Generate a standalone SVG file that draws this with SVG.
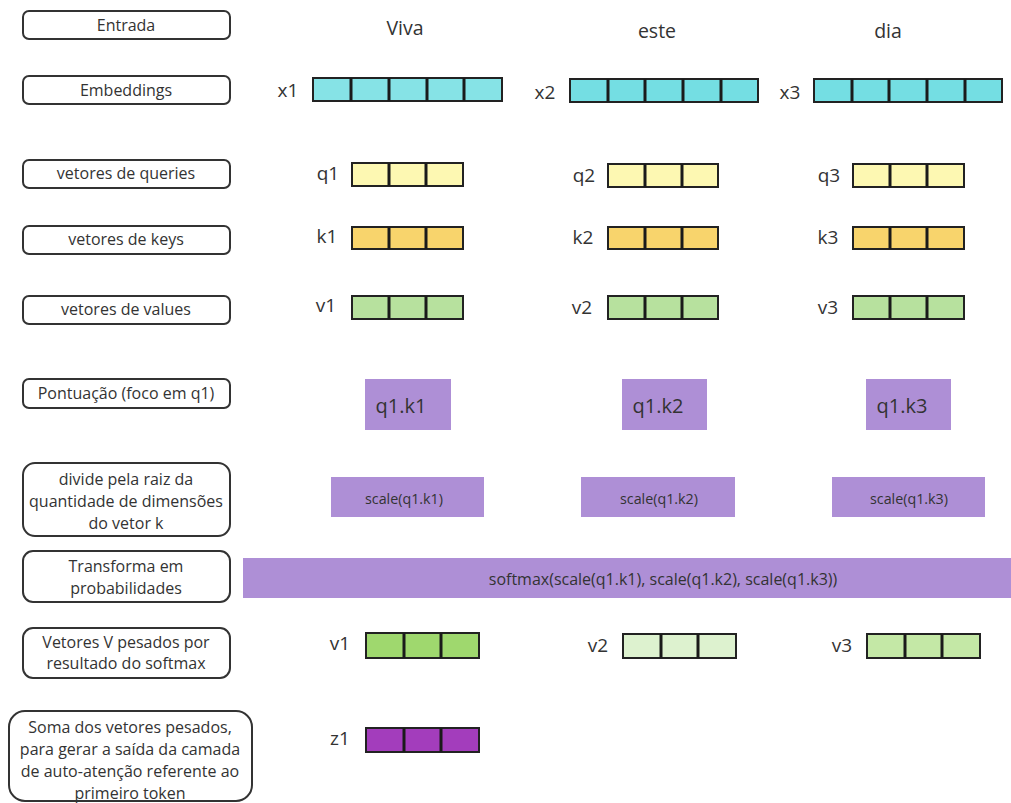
<svg xmlns="http://www.w3.org/2000/svg" width="1011" height="803" viewBox="0 0 1011 803">
<style>
text{font-family:"Open Sans","Noto Sans","Liberation Sans",sans-serif;fill:#333;text-anchor:middle;dominant-baseline:central}
.lbl{fill:#fff;stroke:#333;stroke-width:2}
.lt{font-size:16px}
.tok{font-size:19.5px}
.vn{font-size:19px}
.cell{stroke:#222;stroke-width:2}
.div{stroke:#1a1a1a;stroke-width:3}
.pb{fill:#AE8FD6}
.emb{fill:#74DEE3}
.q{fill:#FDF8B2}
.k{fill:#F8D46C}
.v{fill:#B7E19E}
</style>
<g id="labels">
<g id="l-entrada"><rect class="lbl" x="23" y="11" width="207" height="28" rx="6"/><text class="lt" x="126" y="25">Entrada</text></g>
<g id="l-emb"><rect class="lbl" x="23" y="76" width="207" height="28" rx="6"/><text class="lt" x="126" y="90">Embeddings</text></g>
<g id="l-q"><rect class="lbl" x="23" y="160" width="207" height="28" rx="6"/><text class="lt" x="126" y="173">vetores de queries</text></g>
<g id="l-k"><rect class="lbl" x="23" y="226" width="207" height="28" rx="6"/><text class="lt" x="126" y="239">vetores de keys</text></g>
<g id="l-v"><rect class="lbl" x="23" y="296" width="207" height="28" rx="6"/><text class="lt" x="126" y="309">vetores de values</text></g>
<g id="l-pont"><rect class="lbl" x="23" y="379" width="207" height="29" rx="6"/><text class="lt" x="126" y="393">Pontuação (foco em q1)</text></g>
<g id="l-div"><rect class="lbl" x="23" y="463" width="207" height="73" rx="12"/><text class="lt" x="126" y="479">divide pela raiz da</text><text class="lt" x="126" y="501">quantidade de dimensões</text><text class="lt" x="126" y="523">do vetor k</text></g>
<g id="l-trans"><rect class="lbl" x="23" y="551" width="207" height="51" rx="10"/><text class="lt" x="126" y="566">Transforma em</text><text class="lt" x="126" y="588">probabilidades</text></g>
<g id="l-vpes"><rect class="lbl" x="23" y="628" width="207" height="50" rx="10"/><text class="lt" x="126" y="642">Vetores V pesados por</text><text class="lt" x="126" y="663">resultado do softmax</text></g>
<g id="l-soma"><rect class="lbl" x="9" y="711" width="243" height="90" rx="16"/><text class="lt" x="130" y="727">Soma dos vetores pesados,</text><text class="lt" x="130" y="749">para gerar a saída da camada</text><text class="lt" x="130" y="771">de auto-atenção referente ao</text><text class="lt" x="130" y="793">primeiro token</text></g>
</g>
<g id="tokens">
<text class="tok" x="405" y="27">Viva</text>
<text class="tok" x="657" y="30">este</text>
<text class="tok" x="888" y="30">dia</text>
</g>
<g id="embeddings">
<g id="x1"><text class="vn" x="288" y="90">x1</text><rect class="cell" x="313" y="78" width="189" height="23" fill="#86E3E6"/><path class="div" d="M351 78V101M389 78V101M427 78V101M464 78V101"/></g>
<g id="x2"><text class="vn" x="545" y="92">x2</text><rect class="cell emb" x="570" y="79" width="188" height="23"/><path class="div" d="M608 79V102M645 79V102M683 79V102M721 79V102"/></g>
<g id="x3"><text class="vn" x="790" y="92">x3</text><rect class="cell emb" x="814" y="79" width="188" height="23"/><path class="div" d="M852 79V102M889 79V102M927 79V102M965 79V102"/></g>
</g>
<g id="queries">
<g id="q1"><text class="vn" x="328" y="173">q1</text><rect class="cell q" x="352" y="163" width="111" height="23"/><path class="div" d="M389 163V186M426 163V186"/></g>
<g id="q2"><text class="vn" x="584" y="175">q2</text><rect class="cell q" x="608" y="164" width="110" height="23"/><path class="div" d="M645 164V187M682 164V187"/></g>
<g id="q3"><text class="vn" x="829" y="175">q3</text><rect class="cell q" x="853" y="164" width="111" height="23"/><path class="div" d="M890 164V187M927 164V187"/></g>
</g>
<g id="keys">
<g id="k1"><text class="vn" x="327" y="236">k1</text><rect class="cell k" x="352" y="227" width="111" height="22"/><path class="div" d="M389 227V249M426 227V249"/></g>
<g id="k2"><text class="vn" x="583" y="237">k2</text><rect class="cell k" x="608" y="227" width="110" height="22"/><path class="div" d="M645 227V249M682 227V249"/></g>
<g id="k3"><text class="vn" x="828" y="237">k3</text><rect class="cell k" x="853" y="227" width="111" height="22"/><path class="div" d="M890 227V249M927 227V249"/></g>
</g>
<g id="values">
<g id="v1"><text class="vn" x="326" y="305">v1</text><rect class="cell v" x="352" y="296" width="111" height="23"/><path class="div" d="M389 296V319M426 296V319"/></g>
<g id="v2"><text class="vn" x="582" y="307">v2</text><rect class="cell v" x="608" y="296" width="110" height="23"/><path class="div" d="M645 296V319M682 296V319"/></g>
<g id="v3"><text class="vn" x="828" y="307">v3</text><rect class="cell v" x="853" y="296" width="111" height="23"/><path class="div" d="M890 296V319M927 296V319"/></g>
</g>
<g id="scores">
<g id="s1"><rect class="pb" x="365" y="379" width="86" height="51"/><text x="401" y="405" style="font-size:20px">q1.k1</text></g>
<g id="s2"><rect class="pb" x="622" y="379" width="85" height="51"/><text x="658" y="405" style="font-size:20px">q1.k2</text></g>
<g id="s3"><rect class="pb" x="866" y="379" width="85" height="51"/><text x="902" y="405" style="font-size:20px">q1.k3</text></g>
</g>
<g id="scales">
<g id="sc1"><rect class="pb" x="331" y="477" width="153" height="40"/><text x="404" y="498" style="font-size:14.3px">scale(q1.k1)</text></g>
<g id="sc2"><rect class="pb" x="581" y="477" width="154" height="40"/><text x="659" y="498" style="font-size:14.3px">scale(q1.k2)</text></g>
<g id="sc3"><rect class="pb" x="832" y="477" width="153" height="40"/><text x="909" y="498" style="font-size:14.3px">scale(q1.k3)</text></g>
</g>
<g id="softmax"><rect class="pb" x="243" y="558" width="768" height="40"/><text x="663" y="579" style="font-size:16px">softmax(scale(q1.k1), scale(q1.k2), scale(q1.k3))</text></g>
<g id="weighted">
<g id="wv1"><text class="vn" x="340" y="643">v1</text><rect class="cell" x="366" y="633" width="113" height="25" fill="#9FD86E"/><path class="div" d="M404 633V658M441 633V658"/></g>
<g id="wv2"><text class="vn" x="598" y="645">v2</text><rect class="cell" x="623" y="634" width="113" height="24" fill="#DDF2CF"/><path class="div" d="M661 634V658M698 634V658"/></g>
<g id="wv3"><text class="vn" x="842" y="645">v3</text><rect class="cell" x="867" y="634" width="113" height="24" fill="#C4E8A6"/><path class="div" d="M905 634V658M942 634V658"/></g>
</g>
<g id="output">
<g id="z1"><text class="vn" x="340" y="738">z1</text><rect class="cell" x="366" y="728" width="113" height="24" fill="#A33DBC"/><path class="div" d="M404 728V752M441 728V752"/></g>
</g>
<g id="connectors"/>
</svg>
